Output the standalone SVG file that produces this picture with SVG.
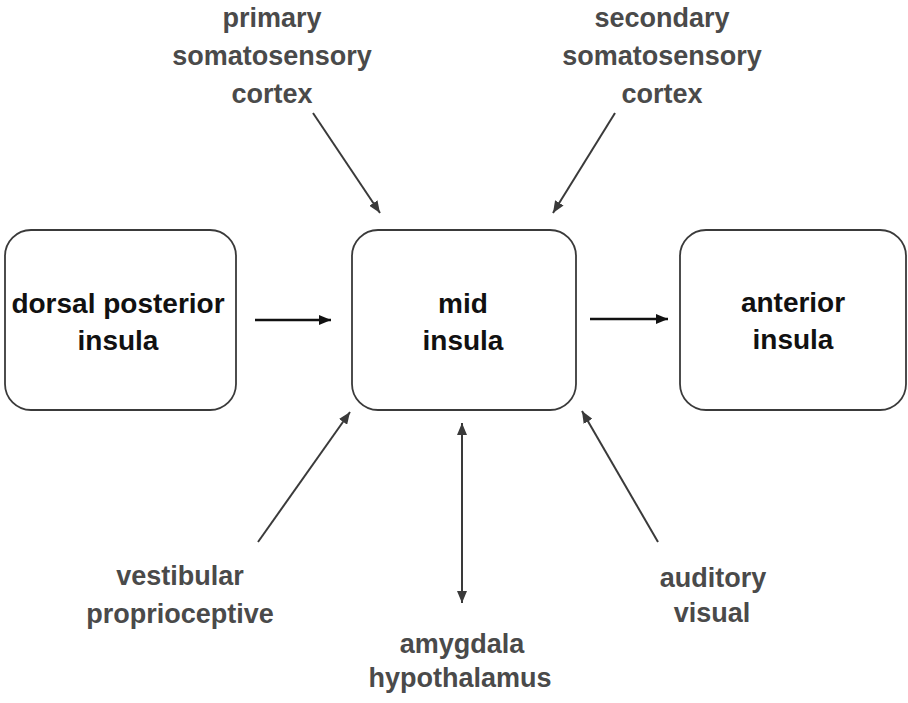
<svg xmlns="http://www.w3.org/2000/svg" width="908" height="703" viewBox="0 0 908 703">
<style>
.box{fill:#fff;stroke:#3a3a3a;stroke-width:1.8}
.nt{font-family:"Liberation Sans",Arial,sans-serif;font-weight:bold;font-size:28px;fill:#111;text-anchor:middle}
.lb{font-family:"Liberation Sans",Arial,sans-serif;font-weight:bold;font-size:27px;fill:#4a4a4a;text-anchor:middle}
.c{stroke:#3a3a3a;stroke-width:2;fill:none}
.h{stroke:#111;stroke-width:2.6;fill:none}
</style>
<defs>
<marker id="a" viewBox="0 0 12 10" refX="12" refY="5" markerWidth="12" markerHeight="10" markerUnits="userSpaceOnUse" orient="auto-start-reverse">
<path d="M0,0 L12,5 L0,10 Z" fill="#3a3a3a"/>
</marker>
<marker id="ab" viewBox="0 0 12 10" refX="12" refY="5" markerWidth="12" markerHeight="10" markerUnits="userSpaceOnUse" orient="auto">
<path d="M0,0 L12,5 L0,10 Z" fill="#111"/>
</marker>
</defs>
<rect width="908" height="703" fill="#fff"/>
<g id="connectors">
<line class="h" x1="255" y1="320" x2="331" y2="320" marker-end="url(#ab)"/>
<line class="h" x1="590" y1="319" x2="668" y2="319" marker-end="url(#ab)"/>
<line class="c" x1="313" y1="113" x2="380" y2="213" marker-end="url(#a)"/>
<line class="c" x1="615" y1="113" x2="553" y2="213" marker-end="url(#a)"/>
<line class="c" x1="258" y1="542" x2="350" y2="412" marker-end="url(#a)"/>
<line class="c" x1="658" y1="542" x2="582" y2="411" marker-end="url(#a)"/>
<line class="c" x1="462" y1="423" x2="462" y2="603" marker-start="url(#a)" marker-end="url(#a)"/>
</g>
<g id="dorsal-posterior-insula">
<rect class="box" x="5" y="230" width="231" height="180" rx="26"/>
<text class="nt" x="118" y="313">dorsal posterior</text>
<text class="nt" x="118" y="350">insula</text>
</g>
<g id="mid-insula">
<rect class="box" x="352" y="230" width="224" height="180" rx="26"/>
<text class="nt" x="463" y="313">mid</text>
<text class="nt" x="463" y="350">insula</text>
</g>
<g id="anterior-insula">
<rect class="box" x="680" y="230" width="226" height="180" rx="26"/>
<text class="nt" x="793" y="312">anterior</text>
<text class="nt" x="793" y="349">insula</text>
</g>
<g id="primary-somatosensory-cortex">
<text class="lb" x="272" y="27">primary</text>
<text class="lb" x="272" y="65">somatosensory</text>
<text class="lb" x="272" y="103">cortex</text>
</g>
<g id="secondary-somatosensory-cortex">
<text class="lb" x="662" y="27">secondary</text>
<text class="lb" x="662" y="65">somatosensory</text>
<text class="lb" x="662" y="103">cortex</text>
</g>
<g id="vestibular-proprioceptive">
<text class="lb" x="180" y="585">vestibular</text>
<text class="lb" x="180" y="623">proprioceptive</text>
</g>
<g id="amygdala-hypothalamus">
<text class="lb" x="462" y="653">amygdala</text>
<text class="lb" x="460" y="687">hypothalamus</text>
</g>
<g id="auditory-visual">
<text class="lb" x="713" y="587">auditory</text>
<text class="lb" x="712" y="622">visual</text>
</g>
</svg>
